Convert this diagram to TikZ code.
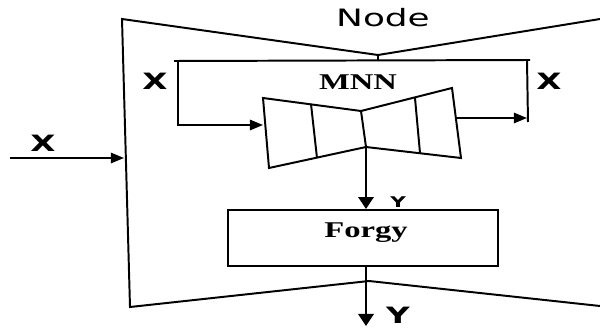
\documentclass[tikz,border=0pt]{standalone}
\usepackage{fontspec}
\usetikzlibrary{arrows.meta}
\newfontfamily\labelfont{DejaVu Sans}
\newfontfamily\boxfont{Liberation Serif}
\newcommand{\wide}[1]{\scalebox{1.45}[1]{#1}}

\begin{document}
\begin{tikzpicture}[x=0.025cm,y=-0.025cm,line width=1.4pt,line join=miter,
  flow/.style={->,line width=1.4pt,>={Triangle[length=3.3mm,width=2.6mm]}},
  down/.style={->,line width=2pt,>={Triangle[length=3mm,width=3.8mm]}},
  var/.style={font=\labelfont\bfseries\fontsize{16}{19}\selectfont,inner sep=0pt},
  small/.style={font=\labelfont\bfseries\fontsize{10.5}{12}\selectfont,inner sep=0pt},
  boxtxt/.style={font=\boxfont\bfseries\fontsize{16}{19}\selectfont,inner sep=0pt}]
\useasboundingbox (0,0) rectangle (600,328);
% ================= outer node body =================
\coordinate (tl) at (122,19);
\coordinate (tm) at (378,55);
\coordinate (tr) at (600,19);
\coordinate (bl) at (130,307);
\coordinate (bm) at (369,281);
\coordinate (br) at (600,306);
\draw (tr) -- (tm) -- (tl) -- (bl) -- (bm) -- (br);
\node[font=\labelfont\fontsize{17}{20}\selectfont,inner sep=0pt] (title) at (383,18) {\scalebox{1.5}[1]{Node}};
% input from outside
\coordinate (xin) at (10,158);
\coordinate (xend) at (124,158);
\draw[flow] (xin) -- (xend);
\node[var] (xa) at (43,143) {\wide{X}};
% ================= MNN (autoencoder) =================
\coordinate (m1) at (263,98);
\coordinate (m2) at (269,168);
\coordinate (mt) at (361,111);
\coordinate (mb) at (366,147);
\coordinate (m3) at (452,88);
\coordinate (m4) at (461,158);
\draw (m1) -- (mt) -- (m3) -- (m4) -- (mb) -- (m2) -- cycle;
\draw (mt) -- (mb);
% layer walls
\draw (311,104) -- (317,158);
\draw (415,98) -- (420,153);
\node[boxtxt] (mnn) at (358,82) {\wide{MNN}};
% skip bracket: X in, X out
\coordinate (bka) at (174,61);
\coordinate (bkb) at (530,60);
\draw (bka) -- (bkb);
\draw (tm) -- (378,61);
\coordinate (inl) at (178,125);
\coordinate (inr) at (263,125);
\draw[flow] (178,61) -- (inl) -- (inr);
\coordinate (outl) at (455,118);
\coordinate (outr) at (527,118);
\draw[flow] (outl) -- (outr);
\draw (527,60) -- (528,122);
\node[var] (xb) at (155,81) {\wide{X}};
\node[var] (xc) at (549,81) {\wide{X}};
% ================= Forgy clustering =================
\node[draw,minimum width=6.75cm,minimum height=1.4cm] (forgy) at (363,238) {};
\node[boxtxt] (forgylbl) at (366,233) {\wide{Forgy}};
\draw[down] (mb) -- (forgy.north -| mb);
\node[small] (ya) at (398,202) {\wide{Y}};
% output
\coordinate (yout) at (366,326);
\draw[down] (forgy.south -| mb) -- (yout);
\node[var] (yb) at (398,315) {\wide{Y}};
\end{tikzpicture}
\end{document}
